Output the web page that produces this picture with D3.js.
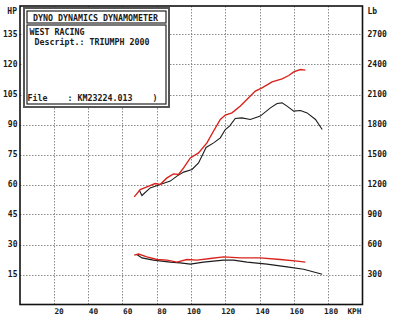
<!DOCTYPE html>
<html><head><meta charset="utf-8">
<script src="https://cdn.jsdelivr.net/npm/d3@7"></script>
<style>
html,body{margin:0;padding:0;background:#fff;}
svg{display:block;}
text{font-family:"DejaVu Sans Mono","Liberation Mono",monospace;font-weight:bold;fill:#1a1a1a;white-space:pre;}
</style></head>
<body><svg id="c" width="400" height="322"></svg>
<script>
// ---- data ----
const kphTicks = [20, 40, 60, 80, 100, 120, 140, 160, 180];
const hpTicks = [15, 30, 45, 60, 75, 90, 105, 120, 135];
const lbTicks = [300, 600, 900, 1200, 1500, 1800, 2100, 2400, 2700];

// red run, power (HP)
const redPowerKph = [66.9, 70.4, 74.3, 79.1, 82, 86, 89.8, 92.7, 95.7, 99.6, 104.4, 109.3, 113, 117.1, 120, 123.9, 128.8, 137.5, 141.4, 147.3, 153.1, 157, 159.9, 163.8, 166.7];
const redPowerHp  = [53.8, 57.5, 58.8, 60.5, 60, 63.3, 65.3, 65, 68.3, 73.3, 75.8, 80.8, 86.5, 92.5, 94.7, 95.8, 99.2, 106.7, 108.3, 111.3, 112.8, 114.5, 116.3, 117.5, 117.2];

// black run, power (HP)
const blackPowerKph = [69.8, 71.4, 76.2, 82, 87.9, 91.8, 95.7, 100.6, 104.4, 108.8, 113.2, 117.1, 120, 122.5, 125.8, 129.7, 134.6, 140.4, 146.3, 150.2, 153.1, 156, 159.9, 163.8, 167.7, 172.6, 176.5];
const blackPowerHp  = [57.2, 54.5, 58.3, 60, 61.7, 64.2, 66.2, 67.5, 70.8, 78.5, 80.8, 83.3, 87.5, 89.2, 93, 93.3, 92.5, 94.2, 98.3, 100.5, 100.8, 99.2, 96.7, 97, 95.8, 92.5, 87.5];

// red run, tractive effort (Lb)
const redForceKph = [66.9, 69.4, 74.3, 80.1, 86, 91.8, 97.6, 103.5, 111.2, 119, 128.8, 140.4, 152.1, 161.9, 166.7];
const redForceLb  = [494, 504, 476, 450, 444, 424, 450, 444, 460, 476, 466, 466, 450, 434, 424];

// black run, tractive effort (Lb)
const blackForceKph = [68.4, 71.4, 78.1, 87.9, 93.7, 99.6, 107.3, 119, 124.8, 132.7, 144.3, 156, 165.7, 176.5];
const blackForceLb  = [500, 466, 444, 424, 416, 404, 424, 444, 444, 424, 404, 376, 352, 302];

const titleLines = ["DYNO DYNAMICS DYNAMOMETER"];
const infoLines = ["WEST RACING", " Descript.: TRIUMPH 2000"];
const fileLine = "File    : KM23224.013    )";

// ---- layout ----
const svg = d3.select("#c");
const pL = 20, pR = 362.5, pT = 6, pB = 304.5;
const x = d3.scaleLinear().domain([0, 200]).range([19.5, 362.5]);
const yHp = d3.scaleLinear().domain([0, 150]).range([304.5, 4.5]);
const yLb = d3.scaleLinear().domain([0, 3000]).range([304.5, 4.5]);

svg.append("rect").attr("width", 400).attr("height", 322).attr("fill", "#fff");

// grid
const grid = svg.append("g").attr("stroke", "#8a8a8a").attr("stroke-width", 1).attr("stroke-dasharray", "1.5,1.5");
grid.selectAll("line.v").data(kphTicks).join("line").attr("class", "v")
  .attr("x1", d => Math.round(x(d)) + 0.5).attr("x2", d => Math.round(x(d)) + 0.5)
  .attr("y1", pT).attr("y2", pB);
grid.selectAll("line.h").data(hpTicks).join("line").attr("class", "h")
  .attr("x1", pL).attr("x2", pR)
  .attr("y1", d => Math.round(yHp(d)) + 0.5).attr("y2", d => Math.round(yHp(d)) + 0.5);

// frame
svg.append("rect").attr("x", pL).attr("y", pT).attr("width", pR - pL).attr("height", pB - pT)
  .attr("fill", "none").attr("stroke", "#111").attr("stroke-width", 1.6);

// left axis labels
const axL = svg.append("g").attr("font-size", 8);
axL.selectAll("text").data(hpTicks).join("text")
  .attr("x", 17.5).attr("y", d => yHp(d)).attr("dy", "0.35em").attr("text-anchor", "end").text(d => d);
axL.append("text").attr("x", 17).attr("y", 11).attr("dy", "0.35em").attr("text-anchor", "end").text("HP");

// right axis labels
const axR = svg.append("g").attr("font-size", 8);
axR.selectAll("text").data(lbTicks).join("text")
  .attr("x", 367.5).attr("y", d => yLb(d)).attr("dy", "0.35em").text(d => d);
axR.append("text").attr("x", 367.5).attr("y", 11).attr("dy", "0.35em").text("Lb");

// bottom axis labels
const axB = svg.append("g").attr("font-size", 7.8);
axB.selectAll("text").data(kphTicks).join("text")
  .attr("x", d => x(d) + 10).attr("y", 313.5).attr("text-anchor", "end").text(d => d);
axB.append("text").attr("x", 361.5).attr("y", 313.5).attr("text-anchor", "end").text("KPH");

// curves
const lineHp = d3.line().x(d => x(d[0])).y(d => yHp(d[1])).curve(d3.curveLinear);
const lineLb = d3.line().x(d => x(d[0])).y(d => yLb(d[1])).curve(d3.curveLinear);
const zip = (a, b) => a.map((v, i) => [v, b[i]]);
const red = "#d8231b", black = "#1c1c1c";
svg.append("path").attr("d", lineLb(zip(blackForceKph, blackForceLb))).attr("fill", "none").attr("stroke", black).attr("stroke-width", 1.1);
svg.append("path").attr("d", lineHp(zip(blackPowerKph, blackPowerHp))).attr("fill", "none").attr("stroke", black).attr("stroke-width", 1.1);
svg.append("path").attr("d", lineLb(zip(redForceKph, redForceLb))).attr("fill", "none").attr("stroke", red).attr("stroke-width", 1.4);
svg.append("path").attr("d", lineHp(zip(redPowerKph, redPowerHp))).attr("fill", "none").attr("stroke", red).attr("stroke-width", 1.4);

// info box
const box = svg.append("g");
box.append("rect").attr("x", 24).attr("y", 8).attr("width", 145).attr("height", 99)
  .attr("fill", "#fff").attr("stroke", "#555").attr("stroke-width", 2);
box.append("rect").attr("x", 27).attr("y", 11).attr("width", 139).attr("height", 12)
  .attr("fill", "#fff").attr("stroke", "#222").attr("stroke-width", 1.2);
box.append("rect").attr("x", 27).attr("y", 25).attr("width", 139).attr("height", 79)
  .attr("fill", "#fff").attr("stroke", "#222").attr("stroke-width", 1.2);
box.append("text").attr("x", 33).attr("y", 20.5).attr("font-size", 8.3).text(titleLines[0]);
box.selectAll("text.info").data(infoLines).join("text").attr("class", "info")
  .attr("x", 29.5).attr("y", (d, i) => 35 + i * 10).attr("font-size", 8.3).attr("xml:space", "preserve").text(d => d);
box.append("text").attr("x", 27.5).attr("y", 101).attr("font-size", 8.3).attr("xml:space", "preserve").text(fileLine);
</script></body></html>
